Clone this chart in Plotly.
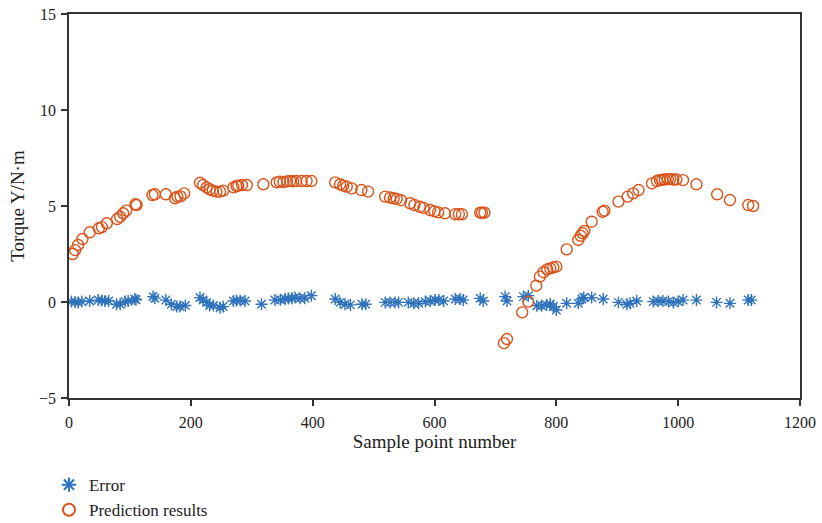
import plotly.graph_objects as go

# Prediction results (orange open circles)
pred_x = [6, 10, 15, 22, 34, 49, 54, 62, 79, 84, 89, 94, 109, 111, 137, 141, 159, 174, 178, 183, 189,
          215, 220, 226, 231, 236, 242, 248, 253, 270, 275, 278, 284, 292,
          319, 341, 346, 352, 358, 363, 368, 373, 382, 390, 398,
          437, 445, 450, 456, 464, 480, 491, 519, 527, 533, 538, 545, 560, 567, 576, 582, 593, 600, 606, 617,
          634, 640, 645, 675, 678, 682,
          714, 719, 744, 754, 767, 773, 779, 785, 790, 795, 800, 817, 836, 840, 843, 846, 858, 876, 879,
          902, 917, 926, 935, 957, 965, 970, 974, 978, 983, 987, 992, 997, 1008, 1030, 1064, 1085, 1115, 1123]
pred_y = [2.5, 2.7, 2.97, 3.28, 3.63, 3.84, 3.9, 4.1, 4.32, 4.44, 4.62, 4.76, 5.09, 5.05, 5.57, 5.61, 5.61, 5.4, 5.49, 5.5, 5.66,
          6.21, 6.09, 5.97, 5.87, 5.8, 5.75, 5.75, 5.8, 5.97, 6.04, 6.06, 6.09, 6.09,
          6.13, 6.23, 6.27, 6.25, 6.28, 6.3, 6.28, 6.3, 6.3, 6.3, 6.3,
          6.23, 6.13, 6.06, 6.01, 5.92, 5.83, 5.75, 5.49, 5.44, 5.4, 5.37, 5.3, 5.14, 5.05, 4.96, 4.9, 4.79, 4.72, 4.67, 4.62,
          4.57, 4.57, 4.57, 4.65, 4.65, 4.65,
          -2.14, -1.93, -0.54, 0.02, 0.85, 1.32, 1.55, 1.7, 1.75, 1.8, 1.84, 2.74, 3.23, 3.45, 3.58, 3.7, 4.18, 4.7, 4.76,
          5.23, 5.49, 5.66, 5.83, 6.18, 6.3, 6.35, 6.37, 6.38, 6.4, 6.4, 6.38, 6.38, 6.35, 6.13, 5.61, 5.31, 5.05, 5.0]

# Error (blue asterisks)
err_x = [4, 10, 15, 21, 34, 48, 54, 59, 65, 78, 84, 92, 97, 108, 110,
         138, 141, 159, 168, 177, 182, 191,
         215, 220, 226, 231, 237, 248, 253, 270, 275, 281, 289, 316,
         338, 347, 355, 360, 366, 371, 379, 387, 398,
         437, 445, 453, 462, 481, 487, 519, 527, 535, 541, 557, 566, 574, 585, 593, 601, 607,
         615, 634, 642, 647, 675, 680, 716, 719, 746, 754,
         768, 776, 784, 790, 795, 800, 817, 836, 842, 845, 858, 877,
         902, 916, 921, 932, 959, 967, 975, 984, 992, 1000, 1008, 1030, 1063, 1085, 1115, 1120]
err_y = [0.02, 0.0, -0.02, 0.02, 0.05, 0.1, 0.08, 0.05, 0.05, -0.12, -0.12, 0.02, 0.05, 0.16, 0.12,
         0.28, 0.2, 0.1, -0.12, -0.24, -0.24, -0.18,
         0.23, 0.1, -0.02, -0.18, -0.18, -0.3, -0.24, 0.05, 0.08, 0.08, 0.05, -0.12,
         0.1, 0.12, 0.16, 0.18, 0.2, 0.23, 0.2, 0.2, 0.33,
         0.16, -0.02, -0.12, -0.15, -0.12, -0.12, -0.02, -0.02, -0.02, -0.02, -0.02, -0.07, -0.07, 0.02, 0.05, 0.1, 0.1,
         0.05, 0.16, 0.16, 0.1, 0.19, 0.05, 0.28, 0.05, 0.28, 0.33,
         -0.19, -0.19, -0.15, -0.1, -0.24, -0.42, -0.07, -0.07, 0.16, 0.23, 0.23, 0.16,
         -0.02, -0.12, -0.07, 0.05, 0.02, 0.05, 0.05, 0.02, -0.02, 0.02, 0.1, 0.1, -0.02, -0.07, 0.1, 0.1]

blue = "#2E72BC"
orange = "#D95319"
font_family = "Liberation Serif"

fig = go.Figure()
fig.add_trace(go.Scatter(
    x=err_x, y=err_y, mode="markers", name="Error",
    marker=dict(symbol="asterisk-open", size=10, color=blue, line=dict(color=blue, width=1.4)),
))
fig.add_trace(go.Scatter(
    x=pred_x, y=pred_y, mode="markers", name="Prediction results",
    marker=dict(symbol="circle-open", size=11, color=orange, line=dict(color=orange, width=1.4)),
))

axis_common = dict(
    showline=True, linecolor="#333333", linewidth=1.5, mirror=True,
    ticks="outside", ticklen=6, tickcolor="#333333", tickwidth=1.5,
    showgrid=False, zeroline=False, automargin=False, ticklabeloverflow="allow",
    tickfont=dict(family=font_family, size=16, color="#222222"),
)

fig.update_layout(
    width=822, height=540,
    margin=dict(l=69, r=22, t=14, b=142),
    paper_bgcolor="white", plot_bgcolor="white",
    font=dict(family=font_family, size=16, color="#222222"),
    xaxis=dict(range=[0, 1200], tickvals=[0, 200, 400, 600, 800, 1000, 1200], ticklabelstandoff=3,
               title=dict(text="Sample point number", font=dict(family=font_family, size=19), standoff=3),
               **axis_common),
    yaxis=dict(range=[-5, 15], tickvals=[-5, 0, 5, 10, 15], ticklabelstandoff=2,
               title=dict(text="Torque Y/N·m", font=dict(family=font_family, size=19), standoff=9),
               **axis_common),
    legend=dict(orientation="v", x=-0.0274, y=-0.18, xanchor="left", yanchor="top",
                font=dict(family=font_family, size=17), bgcolor="rgba(0,0,0,0)",
                itemsizing="constant", tracegroupgap=0),
    showlegend=True,
)

fig.write_html("out.html", config={"displayModeBar": False},
               post_script="document.body.style.margin='0px';")
